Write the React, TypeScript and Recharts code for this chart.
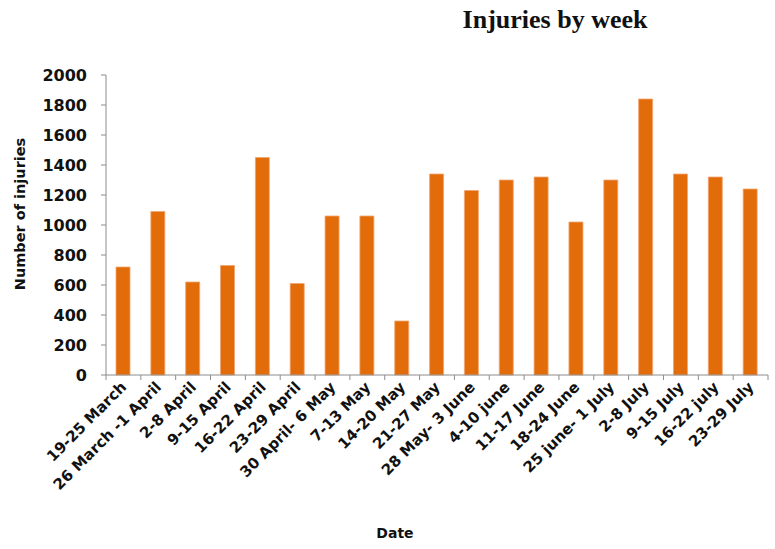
import React from "react"
import { BarChart, Bar, XAxis, YAxis, Label } from "recharts"

const weeks = [
  "19-25 March", "26 March -1 April", "2-8 April", "9-15 April", "16-22 April",
  "23-29 April", "30 April- 6 May", "7-13 May", "14-20 May", "21-27 May",
  "28 May- 3 June", "4-10 june", "11-17 June", "18-24 June", "25 june- 1 July",
  "2-8 July", "9-15 July", "16-22 july", "23-29 July",
]
const injuries = [
  720, 1090, 620, 730, 1450, 610, 1060, 1060, 360, 1340,
  1230, 1300, 1320, 1020, 1300, 1840, 1340, 1320, 1240,
]
const yTicks = [0, 200, 400, 600, 800, 1000, 1200, 1400, 1600, 1800, 2000]

const data = weeks.map((w, i) => ({ week: w, injuries: injuries[i] }))

const W = 775
const H = 549
const M = { top: 75, right: 7, left: 0, bottom: 0 }
const Y_W = 106
const X_H = 174
const step = (W - M.left - M.right - Y_W) / weeks.length
const axisColor = "#8c8c8c"
const labelFont = "'DejaVu Sans', Verdana, sans-serif"

function XTick(props: any) {
  const { x, y, payload, index } = props
  const last = index === weeks.length - 1
  return (
    <g>
      <line x1={x - step / 2} x2={x - step / 2} y1={y} y2={y + 5} stroke={axisColor} />
      {last && <line x1={x + step / 2} x2={x + step / 2} y1={y} y2={y + 5} stroke={axisColor} />}
      <text
        x={x + 4}
        y={y + 13}
        transform={`rotate(-45, ${x + 4}, ${y + 13})`}
        textAnchor="end"
        fontSize={15}
        fontWeight="bold"
        fontFamily={labelFont}
        fill="#111"
      >
        {payload.value}
      </text>
    </g>
  )
}

export default function App() {
  return (
    <div style={{ position: "absolute", left: 0, top: 0, width: W, height: H, background: "#fff" }}>
      <div
        style={{
          position: "absolute",
          left: 405,
          width: 300,
          top: 7,
          textAlign: "center",
          fontFamily: "'Liberation Serif', 'Times New Roman', serif",
          fontWeight: "bold",
          fontSize: 26,
          lineHeight: "26px",
          color: "#111",
        }}
      >
        Injuries by week
      </div>
      <BarChart width={W} height={H} data={data} margin={M} barSize={14}>
        <XAxis
          dataKey="week"
          height={X_H}
          interval={0}
          tickLine={false}
          tickSize={0}
          tickMargin={0}
          stroke={axisColor}
          tick={<XTick />}
        >
          <Label
            content={() => (
              <text x={395} y={538} textAnchor="middle" fontSize={14} fontWeight="bold" fontFamily={labelFont} fill="#111">
                Date
              </text>
            )}
          />
        </XAxis>
        <YAxis
          width={Y_W}
          domain={[0, 2000]}
          ticks={yTicks}
          interval={0}
          tickSize={5}
          tickMargin={14}
          stroke={axisColor}
          tick={{ fontSize: 16, fontWeight: "bold", fontFamily: labelFont, fill: "#111" }}
        >
          <Label
            content={(p: any) => {
              const vb = p.viewBox
              const cx = 25
              const cy = vb.y + vb.height / 2 - 11
              return (
                <text
                  x={cx}
                  y={cy}
                  transform={`rotate(-90, ${cx}, ${cy})`}
                  textAnchor="middle"
                  fontSize={14.5}
                  fontWeight="bold"
                  fontFamily={labelFont}
                  fill="#111"
                >
                  Number of injuries
                </text>
              )
            }}
          />
        </YAxis>
        <Bar dataKey="injuries" fill="#e36c0a" stroke="#f2a46e" strokeWidth={0.8} isAnimationActive={false} />
      </BarChart>
    </div>
  )
}
